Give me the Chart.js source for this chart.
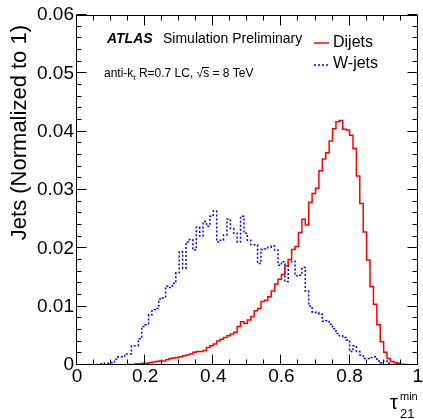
<!DOCTYPE html>
<html lang="en">
<head>
  <meta charset="UTF-8">
  <title>tau21 min - Dijets vs W-jets</title>
  <style>
    body {
      margin: 0;
      background: #ffffff;
    }
    #wrap {
      width: 423px;
      height: 419px;
    }
  </style>
</head>
<body>
  <div id="wrap"><canvas id="tauChart" width="423" height="419"></canvas></div>

  <script src="https://cdn.jsdelivr.net/npm/chart.js"></script>
  <script>
    // 100 bins over [0, 1]
    const binLow = 0;
    const binWidth = 0.01;

    // Dijets, normalized to 1
    const dijets = [
      0, 0, 0, 0, 0, 0, 0, 0, 0, 0,
      0, 0, 0, 0, 0, 0.0001, 0.0001, 0.0002, 0.0002, 0.0003,
      0.0003, 0.0004, 0.0005, 0.0006, 0.0007, 0.0007, 0.0009, 0.0011, 0.0012, 0.0013,
      0.0014, 0.0016, 0.0017, 0.0019, 0.0022, 0.0023, 0.0023, 0.0025, 0.0030, 0.0033,
      0.0036, 0.0041, 0.0044, 0.0047, 0.0050, 0.0053, 0.0056, 0.0066, 0.0074, 0.0071,
      0.0077, 0.0083, 0.0093, 0.0097, 0.0109, 0.0111, 0.0117, 0.0127, 0.0139, 0.0147,
      0.0155, 0.0170, 0.0181, 0.0198, 0.0203, 0.0227, 0.0250, 0.0240, 0.0279, 0.0294,
      0.0303, 0.0333, 0.0353, 0.0364, 0.0384, 0.0405, 0.0417, 0.0419, 0.0404, 0.0403,
      0.0394, 0.0371, 0.0324, 0.0277, 0.0228, 0.0180, 0.0134, 0.0104, 0.0069, 0.0040,
      0.0022, 0.0011, 0.0006, 0.0004, 0.0003, 0.0001, 0.0001, 0, 0, 0
    ];

    // W-jets, normalized to 1
    const wjets = [
      0, 0, 0, 0, 0.0001, 0.0001, 0.0001, 0.0002, 0.0003, 0.0003,
      0.0004, 0.0010, 0.0014, 0.0014, 0.0019, 0.0019, 0.0033, 0.0033, 0.0045, 0.0066,
      0.0069, 0.0086, 0.0095, 0.0097, 0.0113, 0.0115, 0.0135, 0.0133, 0.0140, 0.0158,
      0.0194, 0.0166, 0.0211, 0.0215, 0.0197, 0.0236, 0.0221, 0.0246, 0.0238, 0.0255,
      0.0264, 0.0211, 0.0214, 0.0223, 0.0250, 0.0234, 0.0226, 0.0211, 0.0255, 0.0226,
      0.0214, 0.0206, 0.0206, 0.0174, 0.0198, 0.0199, 0.0202, 0.0204, 0.0197, 0.0171,
      0.0177, 0.0143, 0.0177, 0.0178, 0.0153, 0.0154, 0.0167, 0.0127, 0.0101, 0.0091,
      0.0090, 0.0087, 0.0075, 0.0076, 0.0070, 0.0062, 0.0054, 0.0050, 0.0047, 0.0043,
      0.0023, 0.0033, 0.0023, 0.0017, 0.0011, 0.0011, 0.0013, 0.0014, 0.0007, 0.0004,
      0.0007, 0.0003, 0.0001, 0.0001, 0.0001, 0.0001, 0, 0, 0, 0
    ];

    const xTicks = [0, 0.2, 0.4, 0.6, 0.8, 1];
    const yTicks = [0, 0.01, 0.02, 0.03, 0.04, 0.05, 0.06];

    const FONT = 'Liberation Sans, Arial, sans-serif';

    // left bin edges as points, plus the closing edge, for a stepped line
    function toSteps(values) {
      const pts = values.map((v, i) => ({ x: binLow + i * binWidth, y: v }));
      pts.push({ x: binLow + values.length * binWidth, y: values[values.length - 1] });
      return pts;
    }

    const fmt = v => String(Number(v.toFixed(2)));

    // frame, inward ticks and the text labels
    const rootStyle = {
      id: 'rootStyle',
      afterDraw(chart) {
        const { ctx, chartArea: a, scales: { x, y } } = chart;
        const L = Math.round(a.left) - 0.5, R = Math.round(a.right) - 0.5;
        const T = Math.round(a.top) + 0.5, B = Math.round(a.bottom) - 0.5;
        ctx.save();
        ctx.strokeStyle = '#000';
        ctx.lineWidth = 1;
        ctx.beginPath();
        for (let k = 0; k <= 20; k++) {
          const px = Math.round(x.getPixelForValue(k * 0.05)) - 0.5;
          const len = k % 4 === 0 ? 10 : 5;
          ctx.moveTo(px, B); ctx.lineTo(px, B - len);
          ctx.moveTo(px, T); ctx.lineTo(px, T + len);
        }
        for (let k = 0; k <= 30; k++) {
          const py = Math.round(y.getPixelForValue(k * 0.002)) - 0.5;
          const len = k % 5 === 0 ? 10 : 5;
          ctx.moveTo(L, py); ctx.lineTo(L + len, py);
          ctx.moveTo(R, py); ctx.lineTo(R - len, py);
        }
        ctx.stroke();
        ctx.strokeRect(L, T, R - L, B - T);

        ctx.fillStyle = '#000';
        ctx.textBaseline = 'alphabetic';

        // y axis title
        ctx.save();
        ctx.translate(26, 25);
        ctx.rotate(-Math.PI / 2);
        ctx.textAlign = 'right';
        ctx.font = '22px ' + FONT;
        ctx.fillText('Jets (Normalized to 1)', 0, 0);
        ctx.restore();

        // x axis title
        ctx.textAlign = 'left';
        ctx.font = '20px ' + FONT;
        ctx.fillText('τ', 390, 409);
        ctx.font = '11px ' + FONT;
        ctx.fillText('min', 400, 400);
        ctx.font = '13px ' + FONT;
        ctx.fillText('21', 400, 418);

        // ATLAS label
        ctx.font = 'italic bold 14px ' + FONT;
        ctx.fillText('ATLAS', 107, 43);
        ctx.font = '14px ' + FONT;
        ctx.fillText('Simulation Preliminary', 163, 43);

        // jet algorithm line
        let cx = 104;
        ctx.font = '12px ' + FONT;
        ctx.fillText('anti-k', cx, 77);
        cx += ctx.measureText('anti-k').width;
        ctx.font = '8px ' + FONT;
        ctx.fillText('t', cx, 80);
        cx += ctx.measureText('t').width;
        ctx.font = '12px ' + FONT;
        ctx.fillText(' R=0.7 LC, ', cx, 77);
        cx += ctx.measureText(' R=0.7 LC, ').width;
        ctx.fillText('√', cx, 77);
        const rootW = ctx.measureText('√').width;
        ctx.fillText('s', cx + rootW, 77);
        const sW = ctx.measureText('s').width;
        ctx.beginPath();
        ctx.moveTo(cx + rootW - 1, 67.5);
        ctx.lineTo(cx + rootW + sW, 67.5);
        ctx.stroke();
        cx += rootW + sW;
        ctx.fillText(' = 8 TeV', cx, 77);

        // legend
        const sets = chart.data.datasets;
        const rows = [{ ds: sets[0], y: 43, ty: 47 }, { ds: sets[1], y: 65, ty: 68 }];
        rows.forEach(r => {
          ctx.save();
          ctx.strokeStyle = r.ds.borderColor;
          ctx.lineWidth = r.ds.borderWidth;
          ctx.setLineDash(r.ds.borderDash || []);
          ctx.beginPath();
          ctx.moveTo(314, r.y);
          ctx.lineTo(329, r.y);
          ctx.stroke();
          ctx.restore();
          ctx.font = '16px ' + FONT;
          ctx.fillText(r.ds.label, 333, r.ty);
        });
        ctx.restore();
      }
    };

    new Chart(document.getElementById('tauChart'), {
      type: 'line',
      data: {
        datasets: [
          {
            label: 'Dijets',
            data: toSteps(dijets),
            borderColor: '#ff0000',
            borderWidth: 1.5,
            stepped: true,
            pointRadius: 0,
            fill: false
          },
          {
            label: 'W-jets',
            data: toSteps(wjets),
            borderColor: '#0000ff',
            borderWidth: 1.5,
            borderDash: [2, 2],
            stepped: true,
            pointRadius: 0,
            fill: false
          }
        ]
      },
      options: {
        responsive: false,
        animation: false,
        layout: { padding: { top: 15, right: 5, left: 0, bottom: 0 } },
        plugins: {
          legend: { display: false },
          tooltip: { enabled: false }
        },
        scales: {
          x: {
            type: 'linear',
            min: 0,
            max: 1,
            grid: { display: false, drawTicks: false },
            border: { display: false },
            ticks: {
              font: { family: FONT, size: 19 },
              color: '#000',
              padding: 0,
              maxRotation: 0,
              callback: v => fmt(v)
            },
            afterBuildTicks: s => { s.ticks = xTicks.map(v => ({ value: v })); },
            afterFit: s => { s.height = 54; }
          },
          y: {
            min: 0,
            max: 0.06,
            grid: { display: false, drawTicks: false },
            border: { display: false },
            ticks: {
              font: { family: FONT, size: 19 },
              color: '#000',
              padding: 3,
              callback: v => fmt(v)
            },
            afterBuildTicks: s => { s.ticks = yTicks.map(v => ({ value: v })); },
            afterFit: s => { s.width = 77; }
          }
        }
      },
      plugins: [rootStyle]
    });
  </script>
</body>
</html>
